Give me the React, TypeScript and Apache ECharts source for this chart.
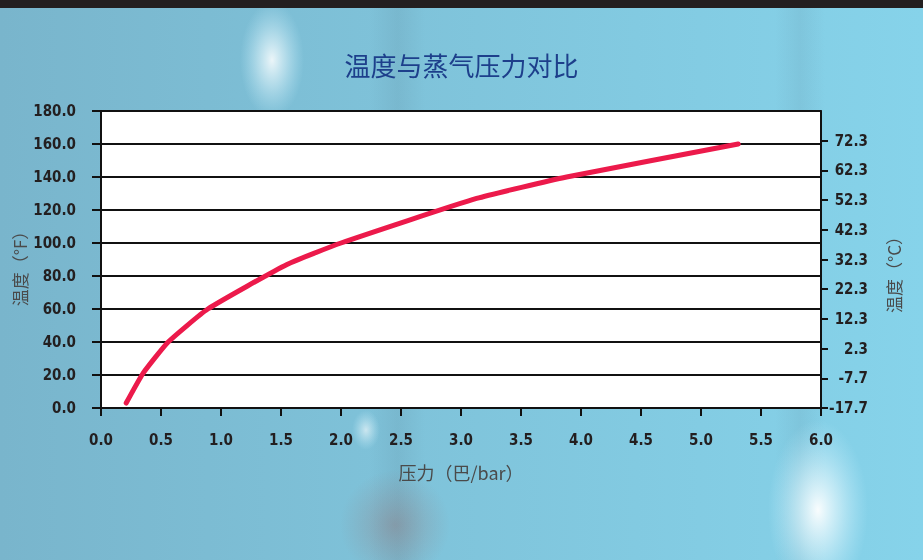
import React, { useEffect, useRef } from "react";
import * as echarts from "echarts";

const titleText = "温度与蒸气压力对比";
const xName = "压力（巴/bar）";
const yLeftName = "温度（°F）";
const yRightName = "温度（°C）";

// pressure (bar) vs temperature (°F)
const pressure = [0.21, 0.35, 0.56, 0.89, 1.55, 2.0, 3.13, 3.88, 5.31];
const tempF = [3, 21, 40, 60, 87, 100, 127, 140, 160];

const rightTicks = [-17.7, -7.7, 2.3, 12.3, 22.3, 32.3, 42.3, 52.3, 62.3, 72.3];

const labelFont = '"DejaVu Sans Condensed", "Liberation Sans Narrow", sans-serif';

export default function App() {
  const ref = useRef<HTMLDivElement>(null);
  useEffect(() => {
    if (!ref.current) return;
    const chart = echarts.init(ref.current, null, { renderer: "svg" });
    const labelStyle = {
      fontFamily: labelFont,
      fontWeight: "bold" as const,
      fontSize: 15,
      color: "#231f20",
    };
    const nameStyle = {
      fontFamily: '"Noto Sans CJK SC", sans-serif',
      fontSize: 17,
      color: "#4a4a4a",
    };
    const glow = (a: number) => ({
      type: "radial", x: 0.5, y: 0.5, r: 0.5,
      colorStops: [
        { offset: 0, color: `rgba(255,255,255,${a})` },
        { offset: 0.45, color: `rgba(235,250,255,${a * 0.55})` },
        { offset: 1, color: "rgba(200,240,255,0)" },
      ],
    });
    chart.setOption({
      animation: false,
      backgroundColor: "transparent",
      graphic: [
        {
          type: "rect",
          z: -10,
          silent: true,
          shape: { x: 0, y: 0, width: 923, height: 560 },
          style: {
            fill: {
              type: "linear",
              x: 0, y: 0, x2: 1, y2: 0,
              colorStops: [
                { offset: 0, color: "#79b5cc" },
                { offset: 0.45, color: "#7fc3da" },
                { offset: 1, color: "#86d3ea" },
              ],
            },
          },
        },
        {
          type: "rect", z: -9, silent: true,
          shape: { x: 370, y: 8, width: 55, height: 552 },
          style: {
            fill: {
              type: "linear", x: 0, y: 0, x2: 1, y2: 0,
              colorStops: [
                { offset: 0, color: "rgba(90,130,150,0)" },
                { offset: 0.5, color: "rgba(90,130,150,0.16)" },
                { offset: 1, color: "rgba(90,130,150,0)" },
              ],
            },
          },
        },
        {
          type: "rect", z: -9, silent: true,
          shape: { x: 775, y: 8, width: 50, height: 552 },
          style: {
            fill: {
              type: "linear", x: 0, y: 0, x2: 1, y2: 0,
              colorStops: [
                { offset: 0, color: "rgba(90,130,150,0)" },
                { offset: 0.5, color: "rgba(90,130,150,0.13)" },
                { offset: 1, color: "rgba(90,130,150,0)" },
              ],
            },
          },
        },
        {
          type: "ellipse", z: -8, silent: true,
          shape: { cx: 272, cy: 60, rx: 32, ry: 58 },
          style: { fill: glow(0.85) },
        },
        {
          type: "ellipse", z: -8, silent: true,
          shape: { cx: 818, cy: 510, rx: 50, ry: 90 },
          style: { fill: glow(0.95) },
        },
        {
          type: "ellipse", z: -8, silent: true,
          shape: { cx: 366, cy: 430, rx: 14, ry: 20 },
          style: { fill: glow(0.6) },
        },
        {
          type: "ellipse", z: -8, silent: true,
          shape: { cx: 395, cy: 525, rx: 55, ry: 55 },
          style: {
            fill: {
              type: "radial", x: 0.5, y: 0.5, r: 0.5,
              colorStops: [
                { offset: 0, color: "rgba(150,100,100,0.35)" },
                { offset: 1, color: "rgba(150,110,110,0)" },
              ],
            },
          },
        },
        {
          type: "rect", z: 10, silent: true,
          shape: { x: 0, y: 0, width: 923, height: 8 },
          style: { fill: "#231f20" },
        },
      ],
      title: {
        text: titleText,
        left: "center",
        top: 46,
        textStyle: {
          fontFamily: '"Noto Sans CJK SC", sans-serif',
          fontSize: 26,
          fontWeight: "normal",
          color: "#1d3f8b",
        },
      },
      grid: {
        left: 101,
        right: 102,
        top: 111,
        bottom: 152,
        outerBoundsMode: "none",
        containLabel: false,
        show: true,
        backgroundColor: "#ffffff",
        borderColor: "#5a1a2a",
        borderWidth: 1.5,
      },
      xAxis: {
        type: "value",
        min: 0,
        max: 6,
        interval: 0.5,
        name: xName,
        nameLocation: "middle",
        nameGap: 55,
        nameMoveOverlap: false,
        nameTextStyle: { ...nameStyle, fontSize: 18 },
        axisLine: { show: true, lineStyle: { color: "#111", width: 2 } },
        axisTick: { show: true, length: 8, lineStyle: { color: "#111", width: 2 } },
        axisLabel: {
          ...labelStyle,
          margin: 24,
          formatter: (v: number) => v.toFixed(1),
        },
        splitLine: { show: false },
      },
      yAxis: [
        {
          type: "value",
          position: "left",
          min: 0,
          max: 180,
          interval: 20,
          name: yLeftName,
          nameLocation: "middle",
          nameGap: 73,
          nameMoveOverlap: false,
          nameRotate: 90,
          nameTextStyle: { ...nameStyle, padding: [0, 10, 0, 0] },
          axisLine: { show: true, lineStyle: { color: "#111", width: 2 } },
          axisTick: { show: true, length: 9, lineStyle: { color: "#111", width: 2 } },
          axisLabel: {
            ...labelStyle,
            margin: 25,
            formatter: (v: number) => v.toFixed(1),
          },
          splitLine: { show: true, lineStyle: { color: "#111", width: 2 } },
        },
        {
          type: "value",
          position: "right",
          min: -17.7,
          max: 82.3,
          name: yRightName,
          nameLocation: "middle",
          nameGap: 64,
          nameMoveOverlap: false,
          nameRotate: 90,
          nameTextStyle: { ...nameStyle, padding: [0, 22, 0, 0] },
          axisLine: { show: true, lineStyle: { color: "#111", width: 2 } },
          axisTick: {
            show: true,
            length: 7,
            customValues: rightTicks,
            lineStyle: { color: "#111", width: 2 },
          },
          axisLabel: {
            ...labelStyle,
            margin: 47,
            align: "right",
            customValues: rightTicks,
            formatter: (v: number) => v.toFixed(1),
          },
          splitLine: { show: false },
        },
      ],
      series: [
        {
          type: "line",
          xAxisIndex: 0,
          yAxisIndex: 0,
          data: pressure.map((p, i) => [p, tempF[i]]),
          smooth: 0.15,
          showSymbol: false,
          lineStyle: { color: "#ec1a4b", width: 5, cap: "round", join: "round" },
          z: 5,
        },
      ],
    });
    return () => chart.dispose();
  }, []);
  return (
    <div
      ref={ref}
      style={{ position: "fixed", left: 0, top: 0, width: 923, height: 560 }}
    />
  );
}
